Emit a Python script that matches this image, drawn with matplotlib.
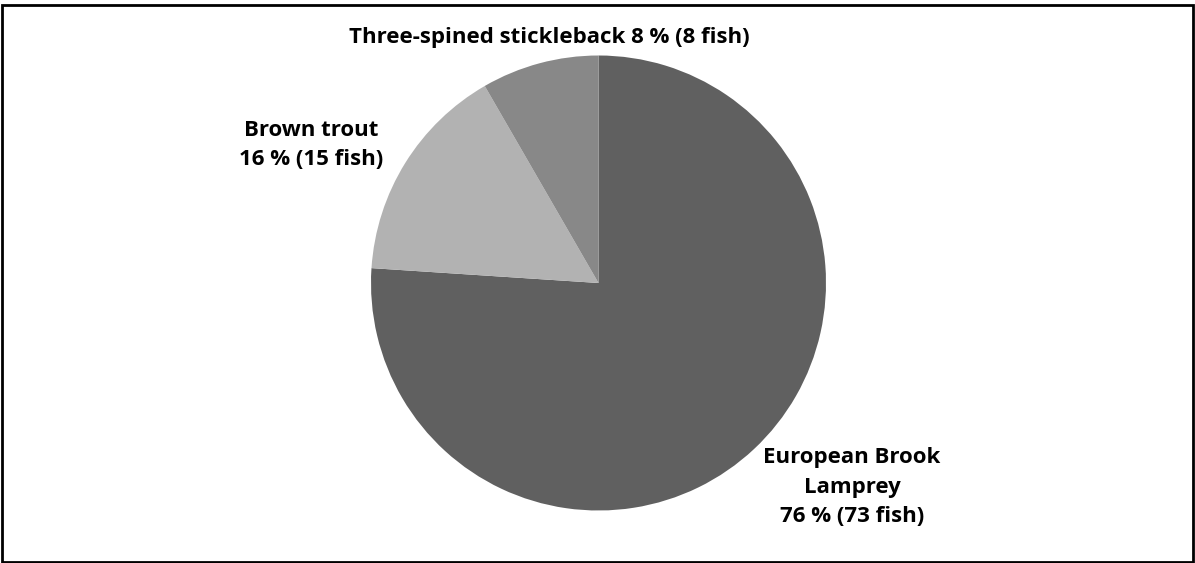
import matplotlib
matplotlib.use("Agg")
import matplotlib.pyplot as plt
from matplotlib.patches import Rectangle

species = ["European Brook\nLamprey", "Brown trout", "Three-spined stickleback"]
fish = [73, 15, 8]
percent = [76, 16, 8]
colors = ["#606060", "#b2b2b2", "#888888"]

W, H = 1195, 563
fig = plt.figure(figsize=(W / 100, H / 100), dpi=100)
plt.rcParams['font.family'] = ['Open Sans', 'DejaVu Sans']

cx, cy, r = 598.5, 283, 227.5
ax = fig.add_axes([(cx - r) / W, (H - cy - r) / H, 2 * r / W, 2 * r / H])
ax.pie(fish, colors=colors, startangle=90, counterclock=False,
       wedgeprops=dict(linewidth=0))
ax.set_xlim(-1, 1)
ax.set_ylim(-1, 1)
ax.set_aspect('equal')

# labels (pixel positions)
lab_pos = [(852, 487), (311, 145), (549, 37)]
for i, (name, n, p) in enumerate(zip(species, fish, percent)):
    if i == 2:
        txt = f"{name} {p} % ({n} fish)"
    else:
        txt = f"{name}\n{p} % ({n} fish)"
    x, y = lab_pos[i]
    fig.text(x / W, 1 - y / H, txt, ha='center', va='center',
             fontsize=16, fontweight='bold', linespacing=1.5)

fig.add_artist(Rectangle((1.5 / W, 1.5 / H), 1 - 3.5 / W, 1 - 6 / H,
                         transform=fig.transFigure, fill=False,
                         edgecolor='black', linewidth=2))
fig.savefig("out.png", dpi=100)
